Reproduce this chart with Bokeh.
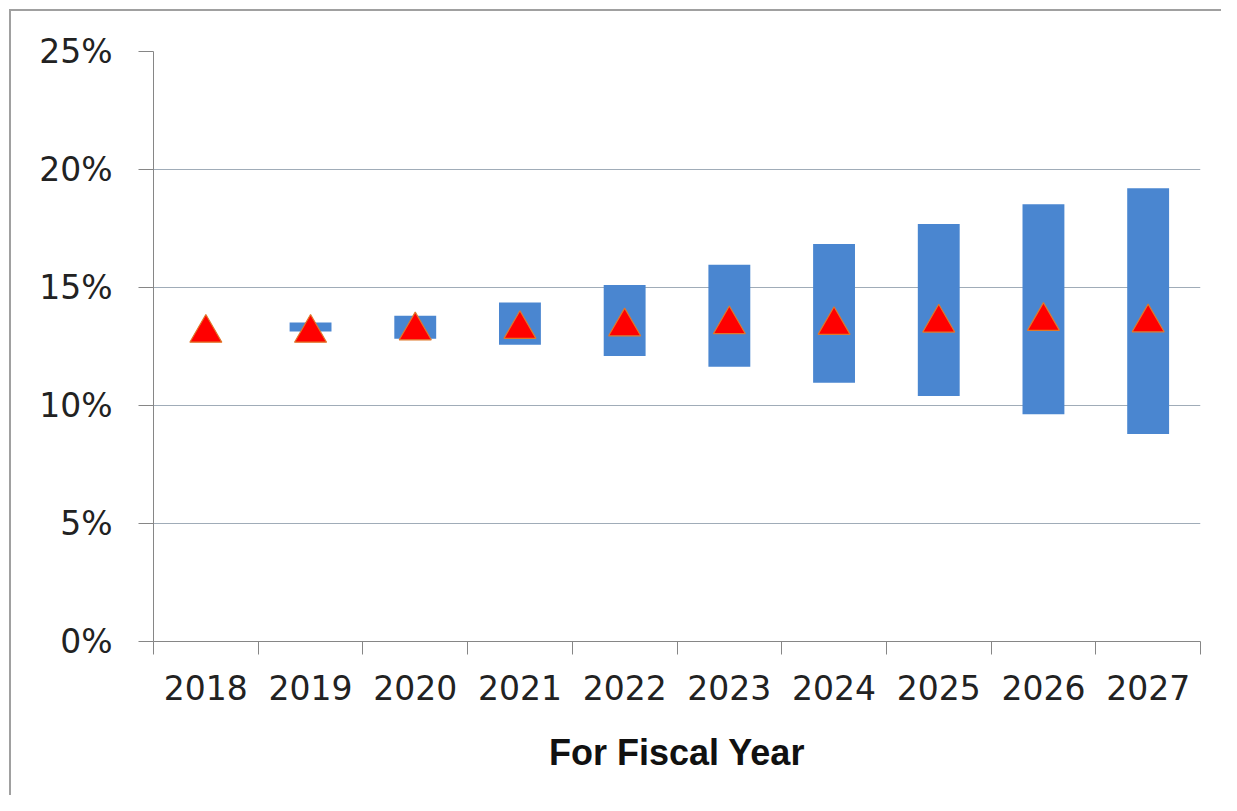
from bokeh.plotting import figure
from bokeh.models import Range1d, FixedTicker, PrintfTickFormatter, ColumnDataSource
from bokeh.transform import dodge
from bokeh.embed import file_html
from bokeh.resources import INLINE

# ---- data (percent) ----
years = [2018, 2019, 2020, 2021, 2022, 2023, 2024, 2025, 2026, 2027]
low   = [13.27, 13.14, 12.83, 12.57, 12.10, 11.64, 10.96, 10.40, 9.63, 8.79]
high  = [13.27, 13.52, 13.80, 14.36, 15.11, 15.96, 16.84, 17.69, 18.53, 19.21]
mid   = [13.27, 13.27, 13.37, 13.43, 13.54, 13.63, 13.60, 13.70, 13.77, 13.71]
y_ticks = [0, 5, 10, 15, 20, 25]
x_label = "For Fiscal Year"

src = ColumnDataSource(dict(year=years, low=low, high=high, mid=mid))

FRAME_W, FRAME_H = 1047, 590
ML, MT, MR, MB = 153, 51, 21, 154

p = figure(
    width=ML + FRAME_W + MR, height=MT + FRAME_H + MB,
    frame_width=FRAME_W, frame_height=FRAME_H,
    min_border_left=ML, min_border_top=MT, min_border_right=MR, min_border_bottom=MB,
    x_range=Range1d(years[0] - 0.5, years[-1] + 0.5),
    y_range=Range1d(0, 25),
    output_backend="svg", toolbar_location=None,
)
p.outline_line_color = None
p.background_fill_color = "white"
p.border_fill_color = None
# outer chart border (only left/top visible, as in the cropped original)
p.styles = {
    "background-color": "white",
    "background-image": "linear-gradient(#a0a0a0,#a0a0a0), linear-gradient(#a0a0a0,#a0a0a0)",
    "background-size": "2px 100%, 100% 2px",
    "background-position": "9px 9px, 9px 9px",
    "background-repeat": "no-repeat",
}

# floating bars
p.vbar(x="year", bottom="low", top="high", width=0.40, source=src,
       fill_color="#4a86d0", line_color=None)

# triangles (Excel centres the marker box on the value; bokeh uses the centroid)
px_per_unit = FRAME_H / 25.0
tri_size = 32
shift = (tri_size * 0.866 / 6.0) / px_per_unit
p.scatter(x="year", y=dodge("mid", -shift, range=p.y_range), source=src,
          marker="triangle", size=tri_size,
          fill_color="#ff0000", line_color="#e0782a", line_width=1.2)

# x axis
xa = p.xaxis[0]
xa.ticker = FixedTicker(ticks=years, minor_ticks=[y - 0.5 for y in years] + [years[-1] + 0.5])
xa.formatter = PrintfTickFormatter(format="%d")
xa.major_tick_out = 0
xa.major_tick_in = 0
xa.minor_tick_out = 13
xa.minor_tick_in = 0
xa.minor_tick_line_color = "#868686"
xa.axis_line_color = "#868686"
xa.major_label_standoff = 20
xa.major_label_text_font = "DejaVu Sans"
xa.major_label_text_font_size = "33px"
xa.major_label_text_color = "#222222"
xa.axis_label = x_label
xa.axis_label_text_font = "Liberation Sans"
xa.axis_label_text_font_style = "bold"
xa.axis_label_text_font_size = "36px"
xa.axis_label_text_color = "#111111"
xa.axis_label_standoff = 29

# y axis
ya = p.yaxis[0]
ya.ticker = FixedTicker(ticks=y_ticks, minor_ticks=[])
ya.formatter = PrintfTickFormatter(format="%d%%")
ya.major_tick_out = 15
ya.major_tick_in = 0
ya.major_tick_line_color = "#868686"
ya.axis_line_color = "#868686"
ya.major_label_standoff = 26
ya.major_label_text_font = "DejaVu Sans"
ya.major_label_text_font_size = "33px"
ya.major_label_text_color = "#222222"

# grid
p.xgrid.grid_line_color = None
p.ygrid.ticker = FixedTicker(ticks=y_ticks)
p.ygrid.grid_line_color = "#a0acb8"
p.ygrid.grid_line_width = 1

open("out.html", "w").write(file_html(p, INLINE))
